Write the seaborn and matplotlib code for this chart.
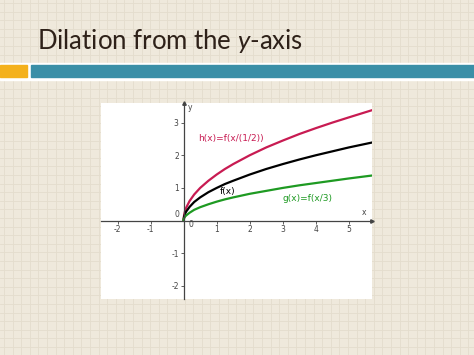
import matplotlib
matplotlib.use("Agg")
import matplotlib.pyplot as plt
import seaborn as sns
import pandas as pd
import numpy as np

# ---- data ----
x_vals = [0, 0.002, 0.005, 0.02, 0.05, 0.08, 0.18, 0.32, 0.5, 0.75, 1.0, 1.25, 1.5, 2.0, 2.5, 3.0, 3.5, 4.0, 4.5, 5.0, 5.7]
f_vals = [0, 0.045, 0.07, 0.14, 0.22, 0.28, 0.42, 0.57, 0.71, 0.87, 1.0, 1.12, 1.22, 1.41, 1.58, 1.73, 1.87, 2.0, 2.12, 2.24, 2.39]
h_vals = [0, 0.063, 0.10, 0.20, 0.32, 0.40, 0.60, 0.80, 1.0, 1.22, 1.41, 1.58, 1.73, 2.0, 2.24, 2.45, 2.65, 2.83, 3.0, 3.16, 3.38]
g_vals = [0, 0.026, 0.04, 0.08, 0.13, 0.16, 0.24, 0.33, 0.41, 0.50, 0.58, 0.65, 0.71, 0.82, 0.91, 1.0, 1.08, 1.15, 1.22, 1.29, 1.38]
x_ticks = [-2, -1, 1, 2, 3, 4, 5]
y_ticks = [-2, -1, 1, 2, 3]
title_text = "Dilation from the $\\mathit{y}$-axis"
label_h = "h(x)=f(x/(1/2))"
label_f = "f(x)"
label_g = "g(x)=f(x/3)"

plt.rcParams['mathtext.fontset'] = 'custom'
plt.rcParams['mathtext.rm'] = 'Lato'
plt.rcParams['mathtext.it'] = 'Lato:italic'
plt.rcParams['axes.unicode_minus'] = False

W, H = 474, 355
fig = plt.figure(figsize=(W / 100, H / 100), dpi=100)
fig.patch.set_facecolor("#efe9dc")

# background graph-paper
bg = fig.add_axes([0, 0, 1, 1])
bg.set_xlim(0, W)
bg.set_ylim(H, 0)
bg.axis("off")
bg.set_facecolor("#efe9dc")
for gx in np.arange(4, W, 8.6):
    bg.axvline(gx, color="#e4ddcd", lw=0.6, zorder=0)
for gy in np.arange(3, H, 8.6):
    bg.axhline(gy, color="#e4ddcd", lw=0.6, zorder=0)
# bars
bg.add_patch(plt.Rectangle((0, 62.5), W, 17.5, color="white", zorder=1))
bg.add_patch(plt.Rectangle((0, 65), 27.5, 12, color="#f4b11c", zorder=2))
bg.add_patch(plt.Rectangle((31, 65), W - 31, 12, color="#3a8fa7", zorder=2))
bg.text(37, 49, title_text, fontsize=18.5, family="Lato", color="#2e2119",
        ha="left", va="baseline")

# plot area
L, R, T, B = 101, 372, 103, 299
ax = fig.add_axes([L / W, 1 - B / H, (R - L) / W, (B - T) / H])
ax.set_facecolor("white")
df = pd.DataFrame({"x": x_vals * 3,
                   "y": h_vals + f_vals + g_vals,
                   "fn": ["h"] * len(x_vals) + ["f"] * len(x_vals) + ["g"] * len(x_vals)})
sns.lineplot(data=df, x="x", y="y", hue="fn",
             palette={"h": "#c81b52", "f": "black", "g": "#1e9a22"},
             linewidth=1.6, legend=False, ax=ax, estimator=None, sort=True)
ax.set_xlim(-2.5, 5.7)
ax.set_ylim(-2.4, 3.6)
for s in ["top", "right"]:
    ax.spines[s].set_visible(False)
ax.spines["left"].set_position(("data", 0))
ax.spines["bottom"].set_position(("data", 0))
ax.spines["left"].set_color("#444444")
ax.spines["bottom"].set_color("#444444")
ax.spines["left"].set_linewidth(0.9)
ax.spines["bottom"].set_linewidth(0.9)
ax.set_xticks(x_ticks)
ax.set_yticks(y_ticks)
ax.tick_params(axis="both", labelsize=5.5, colors="#444444", length=2, width=0.6, pad=1.5)
ax.set_xlabel("")
ax.set_ylabel("")
ax.plot(1, 0, ">", transform=ax.get_yaxis_transform(), clip_on=False, color="#444444", ms=2.5)
ax.plot(0, 1, "^", transform=ax.get_xaxis_transform(), clip_on=False, color="#444444", ms=2.5)
ax.text(0.15, 0.02, "0", fontsize=5.5, color="#444444", ha="left", va="top")
ax.text(-0.12, 0.05, "0", fontsize=5.5, color="#444444", ha="right", va="bottom")
ax.text(0.12, 3.45, "y", fontsize=5.5, color="#444444", ha="left", va="center")
ax.text(5.45, 0.12, "x", fontsize=5.5, color="#444444", ha="center", va="bottom")
ax.text(0.45, 2.5, label_h, fontsize=6.5, color="#c81b52", ha="left", va="center")
ax.text(1.1, 0.88, label_f, fontsize=6.5, color="black", ha="left", va="center")
ax.text(3.0, 0.67, label_g, fontsize=6.5, color="#1e9a22", ha="left", va="center")

fig.savefig("out.png", dpi=100, facecolor=fig.get_facecolor())
